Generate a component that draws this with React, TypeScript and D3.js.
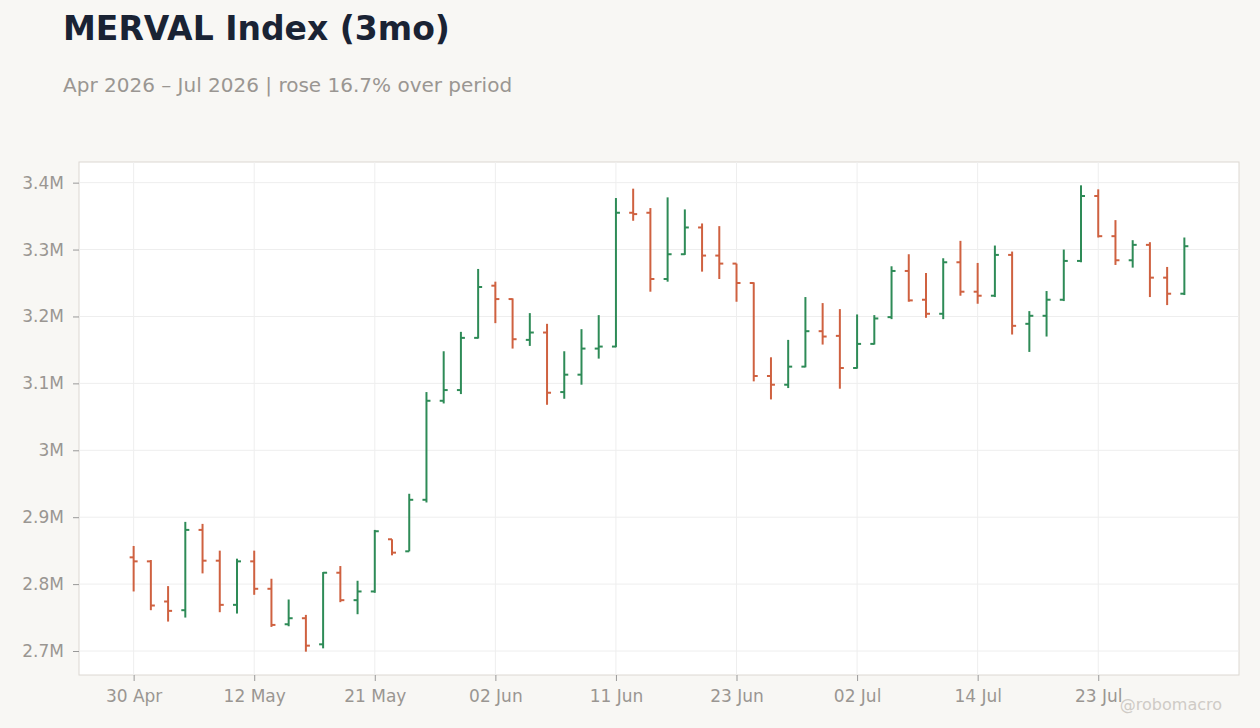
import React, { useEffect, useRef } from "react";
import * as d3 from "d3";

// trading days (Argentine holidays skipped)
const dates = [
  "2026-04-30", "2026-05-04", "2026-05-05", "2026-05-06", "2026-05-07", "2026-05-08",
  "2026-05-11", "2026-05-12", "2026-05-13", "2026-05-14", "2026-05-15", "2026-05-18",
  "2026-05-19", "2026-05-20", "2026-05-21", "2026-05-22", "2026-05-26", "2026-05-27",
  "2026-05-28", "2026-05-29", "2026-06-01", "2026-06-02", "2026-06-03", "2026-06-04",
  "2026-06-05", "2026-06-08", "2026-06-09", "2026-06-10", "2026-06-11", "2026-06-12",
  "2026-06-16", "2026-06-17", "2026-06-18", "2026-06-19", "2026-06-22", "2026-06-23",
  "2026-06-24", "2026-06-25", "2026-06-26", "2026-06-29", "2026-06-30", "2026-07-01",
  "2026-07-02", "2026-07-03", "2026-07-06", "2026-07-07", "2026-07-08", "2026-07-10",
  "2026-07-13", "2026-07-14", "2026-07-15", "2026-07-16", "2026-07-17", "2026-07-20",
  "2026-07-21", "2026-07-22", "2026-07-23", "2026-07-24", "2026-07-27", "2026-07-28",
  "2026-07-29", "2026-07-30",
];

// values in millions
const opens = [
  2.840, 2.834, 2.774, 2.761, 2.881, 2.835, 2.769, 2.834, 2.793, 2.740, 2.749, 2.710,
  2.817, 2.776, 2.789, 2.867, 2.849, 2.926, 3.074, 3.090, 3.168, 3.246, 3.226, 3.165,
  3.176, 3.087, 3.113, 3.152, 3.155, 3.355, 3.355, 3.256, 3.293, 3.333, 3.291, 3.279,
  3.250, 3.111, 3.098, 3.125, 3.178, 3.171, 3.123, 3.159, 3.199, 3.268, 3.225, 3.204,
  3.281, 3.237, 3.231, 3.292, 3.189, 3.201, 3.225, 3.283, 3.380, 3.320, 3.284, 3.307,
  3.258, 3.234,
];
const highs = [
  2.857, 2.836, 2.797, 2.893, 2.890, 2.850, 2.838, 2.850, 2.808, 2.777, 2.754, 2.818,
  2.827, 2.805, 2.881, 2.867, 2.935, 3.087, 3.148, 3.177, 3.271, 3.252, 3.227, 3.205,
  3.189, 3.148, 3.181, 3.202, 3.377, 3.391, 3.362, 3.378, 3.360, 3.339, 3.335, 3.279,
  3.251, 3.139, 3.165, 3.229, 3.220, 3.211, 3.203, 3.202, 3.275, 3.293, 3.265, 3.287,
  3.313, 3.280, 3.306, 3.297, 3.208, 3.238, 3.300, 3.396, 3.390, 3.344, 3.314, 3.311,
  3.274, 3.318,
];
const lows = [
  2.789, 2.761, 2.744, 2.750, 2.816, 2.758, 2.756, 2.784, 2.736, 2.737, 2.699, 2.704,
  2.773, 2.755, 2.787, 2.843, 2.849, 2.922, 3.070, 3.084, 3.167, 3.190, 3.152, 3.156,
  3.068, 3.077, 3.098, 3.137, 3.154, 3.343, 3.237, 3.252, 3.292, 3.267, 3.256, 3.222,
  3.103, 3.076, 3.093, 3.124, 3.158, 3.092, 3.122, 3.158, 3.196, 3.222, 3.198, 3.196,
  3.231, 3.219, 3.229, 3.173, 3.147, 3.170, 3.223, 3.281, 3.318, 3.277, 3.273, 3.229,
  3.217, 3.232,
];
const closes = [
  2.834, 2.768, 2.760, 2.881, 2.835, 2.769, 2.834, 2.793, 2.739, 2.749, 2.708, 2.817,
  2.776, 2.789, 2.879, 2.847, 2.926, 3.074, 3.090, 3.168, 3.244, 3.226, 3.166, 3.176,
  3.086, 3.113, 3.152, 3.155, 3.355, 3.353, 3.256, 3.293, 3.333, 3.291, 3.279, 3.250,
  3.111, 3.098, 3.125, 3.178, 3.170, 3.123, 3.159, 3.197, 3.268, 3.224, 3.204, 3.281,
  3.237, 3.231, 3.292, 3.186, 3.201, 3.225, 3.283, 3.380, 3.320, 3.284, 3.307, 3.258,
  3.234, 3.305,
];

const yTicks = [2.7e6, 2.8e6, 2.9e6, 3.0e6, 3.1e6, 3.2e6, 3.3e6, 3.4e6];
const tickEvery = 7;

const UP = "#2e8b57";
const DOWN = "#cf6140";
const FONT = "'DejaVu Sans', sans-serif";

const App: React.FC = () => {
  const ref = useRef<SVGSVGElement | null>(null);

  useEffect(() => {
    const svg = d3.select(ref.current);
    svg.selectAll("*").remove();

    const W = 1260;
    const H = 728;
    const margin = { top: 162, right: 21, bottom: 53, left: 79 };
    const width = W - margin.left - margin.right;
    const height = H - margin.top - margin.bottom;

    const bars = dates.map((d, i) => ({
      i,
      date: d3.timeParse("%Y-%m-%d")(d) as Date,
      open: opens[i] * 1e6,
      high: highs[i] * 1e6,
      low: lows[i] * 1e6,
      close: closes[i] * 1e6,
    }));

    const n = bars.length;
    const xPad = (n - 1) * 0.052;
    const x = d3.scaleLinear().domain([-xPad, n - 1 + xPad]).range([0, width]);

    const yMin = d3.min(bars, (d) => d.low) || 0;
    const yMax = d3.max(bars, (d) => d.high) || 0;
    const yPad = (yMax - yMin) * 0.05;
    const y = d3.scaleLinear().domain([yMin - yPad, yMax + yPad]).range([height, 0]);

    svg.append("rect").attr("width", W).attr("height", H).attr("fill", "#f8f7f4");

    svg.append("text")
      .attr("x", 63)
      .attr("y", 40)
      .style("font-family", FONT)
      .style("font-size", "33px")
      .style("font-weight", "bold")
      .attr("fill", "#1a2334")
      .text("MERVAL Index (3mo)");

    svg.append("text")
      .attr("x", 63)
      .attr("y", 92)
      .style("font-family", FONT)
      .style("font-size", "20px")
      .attr("fill", "#9a9692")
      .text("Apr 2026 \u2013 Jul 2026 | rose 16.7% over period");

    const g = svg.append("g").attr("transform", `translate(${margin.left},${margin.top})`);

    g.append("rect")
      .attr("width", width)
      .attr("height", height)
      .attr("fill", "#ffffff")
      .attr("stroke", "#dcd8d2")
      .attr("stroke-width", 1);

    const xTickIdx = bars.filter((d) => d.i % tickEvery === 0).map((d) => d.i);

    // grid
    g.append("g")
      .selectAll("line")
      .data(yTicks)
      .enter()
      .append("line")
      .attr("x1", 0)
      .attr("x2", width)
      .attr("y1", (d) => y(d))
      .attr("y2", (d) => y(d))
      .attr("stroke", "#eeeeee");
    g.append("g")
      .selectAll("line")
      .data(xTickIdx)
      .enter()
      .append("line")
      .attr("x1", (d) => x(d))
      .attr("x2", (d) => x(d))
      .attr("y1", 0)
      .attr("y2", height)
      .attr("stroke", "#eeeeee");

    // axes
    const fmtM = (v: number) => `${+(v / 1e6).toFixed(1)}M`;
    const yAxis = d3.axisLeft(y).tickValues(yTicks).tickSize(6).tickPadding(9)
      .tickFormat((v) => fmtM(v as number));
    const yG = g.append("g").call(yAxis);
    yG.select(".domain").remove();
    yG.selectAll("line").attr("stroke", "#999");
    yG.selectAll("text")
      .style("font-family", FONT)
      .style("font-size", "17px")
      .attr("fill", "#9a9692");

    const fmtD = d3.timeFormat("%d %b");
    const xAxis = d3.axisBottom(x).tickValues(xTickIdx).tickSize(6).tickPadding(9)
      .tickFormat((v) => fmtD(bars[v as number].date));
    const xG = g.append("g").attr("transform", `translate(0,${height})`).call(xAxis);
    xG.select(".domain").remove();
    xG.selectAll("line").attr("stroke", "#999");
    xG.selectAll("text")
      .style("font-family", FONT)
      .style("font-size", "17px")
      .attr("fill", "#9a9692");

    // OHLC bars
    const tick = 4;
    const ohlc = g.append("g")
      .selectAll("g")
      .data(bars)
      .enter()
      .append("g")
      .attr("stroke", (d) => (d.close >= d.open ? UP : DOWN))
      .attr("stroke-width", 2);
    ohlc.append("line")
      .attr("x1", (d) => x(d.i))
      .attr("x2", (d) => x(d.i))
      .attr("y1", (d) => y(d.high))
      .attr("y2", (d) => y(d.low));
    ohlc.append("line")
      .attr("x1", (d) => x(d.i) - tick)
      .attr("x2", (d) => x(d.i))
      .attr("y1", (d) => y(d.open))
      .attr("y2", (d) => y(d.open));
    ohlc.append("line")
      .attr("x1", (d) => x(d.i))
      .attr("x2", (d) => x(d.i) + tick)
      .attr("y1", (d) => y(d.close))
      .attr("y2", (d) => y(d.close));

    svg.append("text")
      .attr("x", 1222)
      .attr("y", 710)
      .attr("text-anchor", "end")
      .style("font-family", FONT)
      .style("font-size", "16px")
      .attr("fill", "#cfcbc6")
      .text("@robomacro");
  }, []);

  return (
    <div style={{ position: "absolute", left: 0, top: 0 }}>
      <svg ref={ref} width={1260} height={728} style={{ display: "block" }} />
    </div>
  );
};

export default App;
